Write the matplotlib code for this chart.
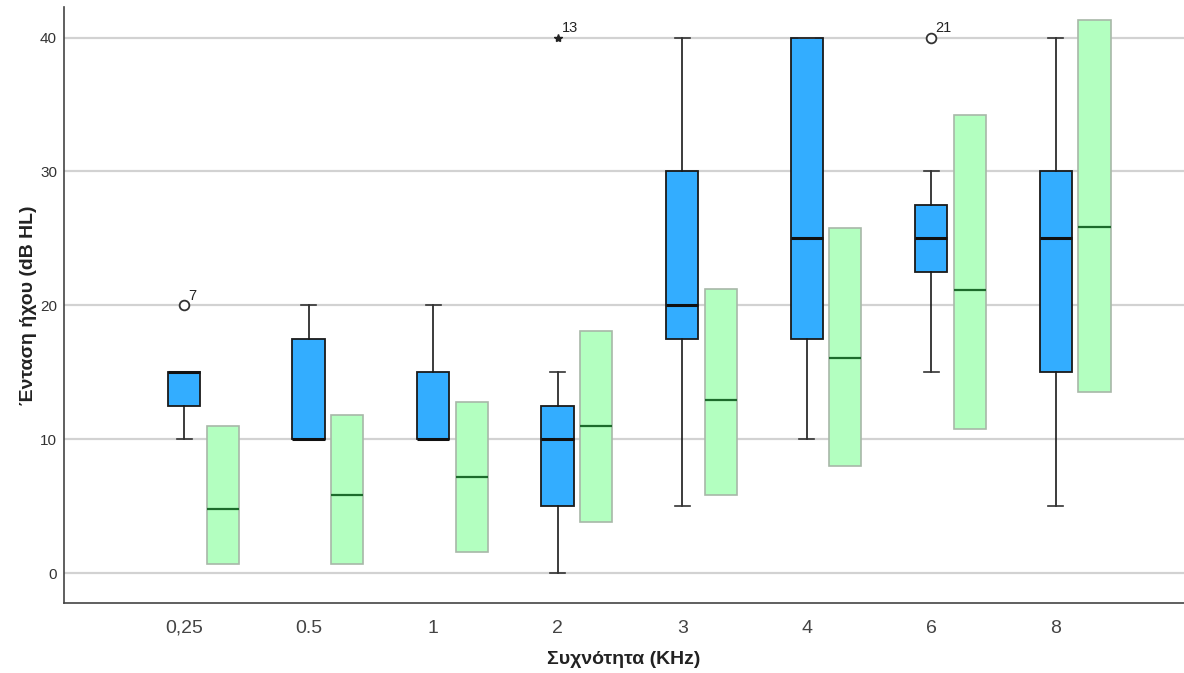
import matplotlib.pyplot as plt
import numpy as np

plt.rcParams['font.family'] = ['Liberation Sans', 'DejaVu Sans']

# frequencies on the x axis
freqs = ["0,25", "0.5", "1", "2", "3", "4", "6", "8"]

# measured hearing levels (box plot summary)
whis_low = [10, 10, 10, 0, 5, 10, 15, 5]
q1 = [12.5, 10, 10, 5, 17.5, 17.5, 22.5, 15]
median = [15, 10, 10, 10, 20, 25, 25, 25]
q3 = [15, 17.5, 15, 12.5, 30, 40, 27.5, 30]
whis_high = [15, 20, 20, 15, 40, 40, 30, 40]

# outliers: (frequency index, value, case number, marker)
outliers = [(0, 20, "7", "o"), (3, 40, "13", "*"), (6, 40, "21", "o")]

# reference bands
ref_low = [0.7, 0.7, 1.6, 3.8, 5.8, 8.0, 10.75, 13.5]
ref_mid = [4.8, 5.85, 7.2, 11.0, 12.9, 16.05, 21.15, 25.85]
ref_high = [11.0, 11.8, 12.8, 18.05, 21.2, 25.8, 34.2, 41.3]

fig = plt.figure(figsize=(11.84, 6.73), dpi=100)
ax = fig.add_axes([0.054, 0.104, 0.946, 0.886])

x = np.arange(len(freqs))
w = 0.26
off = 0.31

for v in range(0, 41, 10):
    ax.axhline(v, color="#d2d2d2", lw=1.6, zorder=0)

stats = []
for i in range(len(freqs)):
    stats.append(dict(whislo=whis_low[i], q1=q1[i], med=median[i], q3=q3[i],
                      whishi=whis_high[i], fliers=[]))

ax.bxp(stats, positions=x, widths=w, patch_artist=True, showfliers=False,
       capwidths=0.12,
       boxprops=dict(facecolor="#33adff", edgecolor="#1a1a1a", lw=1.3),
       medianprops=dict(color="#111111", lw=2.2),
       whiskerprops=dict(color="#1a1a1a", lw=1.2),
       capprops=dict(color="#333333", lw=1.2),
       zorder=3)

for i, val, lab, m in outliers:
    if m == "o":
        ax.plot(i, val, marker="o", ms=7, mfc="white", mec="#333333", mew=1.3, zorder=4)
    else:
        ax.plot(i, val, marker="*", ms=6, color="#222222", zorder=4)
    ax.annotate(lab, (i, val), xytext=(3, 4), textcoords="offset points",
                fontsize=10.5, color="#222222")

heights = np.array(ref_high) - np.array(ref_low)
ax.bar(x + off, heights, bottom=ref_low, width=w, color="#b3ffc0",
       edgecolor="#a8b8a8", lw=1.2, zorder=2)
ax.hlines(ref_mid, x + off - w / 2, x + off + w / 2, color="#1d6b2c", lw=1.6, zorder=3)

ax.set_xlim(-0.965, 8.03)
ax.set_ylim(-2.24, 42.3)
ax.set_yticks([0, 10, 20, 30, 40])
ax.set_xticks(x)
ax.set_xticklabels(freqs, fontsize=14, color="#444444")
ax.tick_params(axis="x", length=0, pad=12)
ax.tick_params(axis="y", length=0, labelsize=11, colors="#333333", pad=5)

for s in ["top", "right"]:
    ax.spines[s].set_visible(False)
for s in ["left", "bottom"]:
    ax.spines[s].set_color("#444444")
    ax.spines[s].set_linewidth(1.2)

ax.set_xlabel("Συχνότητα (KHz)", fontsize=14, fontweight="bold", color="#222222", labelpad=10)
ax.set_ylabel("Ένταση ήχου (dB HL)", fontsize=14, fontweight="bold", color="#222222", labelpad=2)

fig.savefig("out.png", dpi=100)
